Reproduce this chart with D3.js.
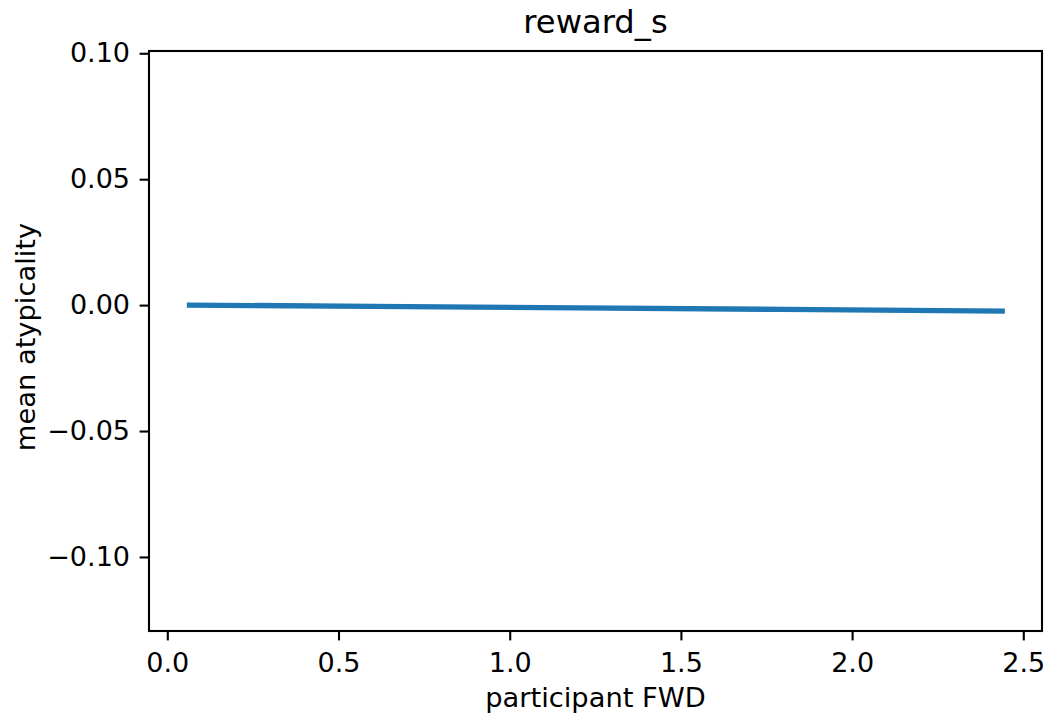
<!DOCTYPE html>
<html><head><meta charset="utf-8">
<script src="https://cdn.jsdelivr.net/npm/d3@7"></script>
<style>body{margin:0;background:#fff;} svg{display:block;font-family:"DejaVu Sans",sans-serif;}</style>
</head><body>
<svg id="c" width="1048" height="717"></svg>
<script>
const fwd = [0.057, 0.6, 1.2, 1.8, 2.446];
const atypicality = [0.0000, -0.0005, -0.0011, -0.0017, -0.0024];
const xTicks = [0.0, 0.5, 1.0, 1.5, 2.0, 2.5];
const yTicks = [-0.10, -0.05, 0.00, 0.05, 0.10];
const title = "reward_s", xLabel = "participant FWD", yLabel = "mean atypicality";

const svg = d3.select("#c");
const L = 149, R = 1042, T = 51, B = 631;
const x = d3.scaleLinear().domain([-0.0535, 2.5546]).range([L, R]);
const y = d3.scaleLinear().domain([-0.1294, 0.1009]).range([B, T]);
const fmt = v => (v < 0 ? "\u2212" : "") + Math.abs(v).toFixed(1);
const fmtY = v => (v < 0 ? "\u2212" : "") + Math.abs(v).toFixed(2);

svg.append("path").datum(fwd.map((d,i)=>[d, atypicality[i]]))
  .attr("fill","none").attr("stroke","#1f77b4").attr("stroke-width",5.4)
  .attr("d", d3.line().x(d=>x(d[0])).y(d=>y(d[1])));

const xa = svg.append("g").attr("transform",`translate(0,${B})`)
  .call(d3.axisBottom(x).tickValues(xTicks).tickFormat(fmt).tickSize(9.4).tickPadding(12.4));
const ya = svg.append("g").attr("transform",`translate(${L},0)`)
  .call(d3.axisLeft(y).tickValues(yTicks).tickFormat(fmtY).tickSize(9.4).tickPadding(9.6));
[xa, ya].forEach(a=>{
  a.select(".domain").remove();
  a.selectAll("line").attr("stroke","#000").attr("stroke-width",2.1);
  a.selectAll("text").attr("font-size",27).attr("fill","#000").attr("font-family","DejaVu Sans");
});
svg.append("rect").attr("x",L).attr("y",T).attr("width",R-L).attr("height",B-T)
  .attr("fill","none").attr("stroke","#000").attr("stroke-width",2.1);

svg.append("text").attr("x",(L+R)/2).attr("y",33).attr("text-anchor","middle")
  .attr("font-size",32.2).text(title);
svg.append("text").attr("x",(L+R)/2).attr("y",707).attr("text-anchor","middle")
  .attr("font-size",27.3).text(xLabel);
svg.append("text").attr("transform",`translate(35,337) rotate(-90)`).attr("text-anchor","middle")
  .attr("font-size",27.3).text(yLabel);
</script>
</body></html>
